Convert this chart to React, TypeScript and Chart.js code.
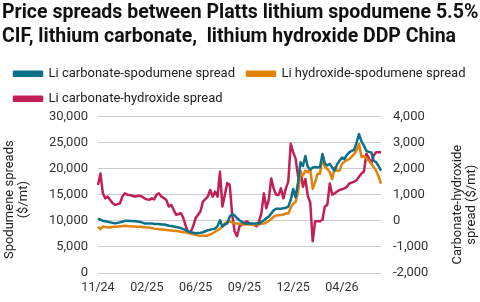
import React, { useEffect, useRef } from "react";
import { Chart, registerables } from "chart.js";

Chart.register(...registerables);

const titleLines = [
  "Price spreads between Platts lithium spodumene 5.5%",
  "CIF, lithium carbonate,  lithium hydroxide DDP China",
];

const tickLabels = ["11/24", "02/25", "06/25", "09/25", "12/25", "04/26"];
const tickEvery = 20;

// Li carbonate-spodumene spread ($/mt), left axis
const carbSpod = [
  10400, 10200, 10000, 9900, 9800, 9700, 9600, 9500, 9600, 9700,
  9800, 10000, 10000, 9950, 9940, 9900, 9850, 9800, 9700, 9500,
  9500, 9500, 9500, 9400, 9400, 9400, 9300, 9300, 9200, 9050,
  9000, 8900, 8800, 8700, 8600, 8400, 8200, 8000, 7800, 7700,
  7600, 7650, 7700, 7800, 8000, 8200, 8300, 8400, 8500, 9000,
  10100, 8900, 9300, 9500, 10800, 11300, 11000, 10500, 10100, 9800,
  9500, 9500, 9500, 9500, 9500, 9500, 9500, 9800, 10100, 10500,
  10800, 11400, 12000, 12300, 12300, 12300, 12400, 12500, 12700, 14000,
  16100, 14500, 17400, 21200, 20500, 22400, 20300, 19800, 20200, 20300,
  20200, 20300, 22800, 21000, 20600, 20900, 20200, 19600, 20800, 21500,
  22100, 21800, 22600, 23100, 23400, 23600, 25000, 26600, 25200, 24400,
  23400, 23200, 23100, 21500, 21200, 20500, 19600,
];

// Li hydroxide-spodumene spread ($/mt), left axis
const hydSpod = [
  8900, 8400, 8900, 8800, 8750, 8700, 8800, 8850, 8900, 8900,
  9000, 9050, 9000, 8950, 8900, 8900, 8880, 8860, 8800, 8750,
  8700, 8700, 8600, 8500, 8450, 8400, 8350, 8300, 8250, 8200,
  8150, 8100, 8050, 8000, 7900, 7800, 7750, 7700, 7550, 7400,
  7300, 7200, 7150, 7150, 7150, 7200, 7400, 7600, 7900, 8200,
  8500, 9000, 9500, 9800, 9900, 9700, 9500, 9500, 9450, 9400,
  9350, 9300, 9300, 9300, 9300, 9300, 9300, 9450, 9500, 9700,
  9950, 10300, 10800, 11000, 11070, 11100, 11200, 11400, 11400, 12500,
  13300, 13600, 15500, 19300, 18700, 19600, 19300, 19900, 16100, 17400,
  19000, 19000, 22100, 20300, 19900, 19300, 18000, 20200, 19600, 19600,
  20900, 21300, 21600, 21800, 22300, 22800, 23500, 24700, 22200, 22400,
  22000, 21500, 21000, 20300, 19600, 18500, 17100,
];

// Li carbonate-hydroxide spread ($/mt), right axis
const carbHyd = [
  1370, 1810, 1050, 860, 925, 800, 670, 610, 640, 670,
  930, 1050, 1000, 990, 960, 930, 950, 960, 930, 860,
  820, 800, 860, 820, 1000, 1050, 925, 870, 800, 545,
  610, 420, 230, 260, 290, 100, -210, -470, -430, -210,
  100, 230, 355, 735, 830, 925, 1180, 925, 1115, 925,
  1875, 545, 1000, 1450, 1370, 230, -400, -590, -210, -150,
  -80, -20, -90, -120, -150, -210, -20, 300, 1050, 480,
  800, 1620, 1240, 1000, 990, 1240, 860, 1240, 1500, 2950,
  2630, 2380, 1700, 1900, 1300, 1600, 950, 700, -780, -20,
  -20, -20, 40, 545, 610, 1430, 1000, 1050, 1120, 1180,
  1210, 1240, 1300, 1430, 1460, 1500, 1560, 1690, 1810, 1880,
  2570, 2400, 2190, 2500, 2630, 2630, 2630,
];

const seriesNames = [
  "Li carbonate-spodumene spread",
  "Li hydroxide-spodumene spread",
  "Li carbonate-hydroxide spread",
];
const colors = ["#0B7189", "#E2820A", "#C21F55"];

const leftTitle = ["Spodumene spreads", "($/mt)"];
const rightTitle = ["Carbonate-hydroxide", "spread ($/mt)"];

const FONT = "Roboto, 'Liberation Sans', sans-serif";

const legendGap = {
  id: "legendGap",
  beforeInit(chart: any) {
    const lg = chart.legend;
    if (!lg) return;
    const fit = lg.fit;
    lg.fit = function () {
      fit.call(lg);
      lg.height += 1;
    };
  },
};

// Both axis titles read bottom-to-top, as in the reference
const axisTitles = {
  id: "axisTitles",
  afterDraw(chart: any) {
    const { ctx, chartArea, width } = chart;
    const midY = (chartArea.top + chartArea.bottom) / 2;
    const draw = (lines: string[], xs: number[], cy: number) => {
      lines.forEach((t, i) => {
        ctx.save();
        ctx.translate(xs[i], cy);
        ctx.rotate(-Math.PI / 2);
        ctx.font = `13px ${FONT}`;
        ctx.fillStyle = "#222";
        ctx.textAlign = "center";
        ctx.textBaseline = "middle";
        ctx.fillText(t, 0, 0);
        ctx.restore();
      });
    };
    draw(leftTitle, [10, 24], midY + 5);
    draw(rightTitle, [width - 22, width - 8], midY + 10);
  },
};

export default function App() {
  const ref = useRef<HTMLCanvasElement | null>(null);
  useEffect(() => {
    document.body.style.margin = "0";
    const labels = carbSpod.map((_, i) => String(i));
    const chart = new Chart(ref.current!, {
      type: "line",
      plugins: [legendGap, axisTitles],
      data: {
        labels,
        datasets: [
          { label: seriesNames[0], data: carbSpod, borderColor: colors[0], backgroundColor: colors[0], yAxisID: "y" },
          { label: seriesNames[1], data: hydSpod, borderColor: colors[1], backgroundColor: colors[1], yAxisID: "y" },
          { label: seriesNames[2], data: carbHyd, borderColor: colors[2], backgroundColor: colors[2], yAxisID: "y1" },
        ].map((d) => ({ ...d, borderWidth: 2.5, pointRadius: 0, tension: 0, borderJoinStyle: "round" as const })),
      },
      options: {
        animation: false,
        responsive: false,
        layout: { padding: { left: 2, right: 0, top: 1, bottom: 0 } },
        plugins: {
          title: {
            display: true,
            text: titleLines,
            align: "start",
            color: "#111",
            font: { family: FONT, size: 19.5, weight: "bold", lineHeight: 1.24 },
            padding: { top: 0, bottom: 6 },
          },
          legend: {
            display: true,
            align: "start",
            labels: {
              color: "#222",
              font: { family: FONT, size: 13 },
              boxWidth: 28,
              boxHeight: 4,
              padding: 12,
            },
          },
          tooltip: { enabled: false },
        },
        scales: {
          x: {
            type: "category",
            offset: false,
            grid: { display: false, drawTicks: false },
            border: { display: false },
            ticks: {
              autoSkip: false,
              maxRotation: 0,
              padding: 7,
              color: "#333",
              font: { family: FONT, size: 12.5 },
              callback: (_v: any, idx: number) =>
                idx % tickEvery === 0 && tickLabels[idx / tickEvery] ? tickLabels[idx / tickEvery] : "",
            },
          },
          y: {
            position: "left",
            min: 0,
            max: 30000,
            afterFit: (s: any) => {
              s.width = 96;
            },
            ticks: {
              stepSize: 5000,
              padding: 10,
              color: "#333",
              font: { family: FONT, size: 13 },
              callback: (v: any) => Number(v).toLocaleString("en-US"),
            },
            grid: { color: "#cccccc", drawTicks: false },
            border: { display: false },
          },
          y1: {
            position: "right",
            min: -2000,
            max: 4000,
            afterFit: (s: any) => {
              s.width = 99;
            },
            ticks: {
              stepSize: 1000,
              padding: 12,
              color: "#333",
              font: { family: FONT, size: 13 },
              callback: (v: any) => Number(v).toLocaleString("en-US"),
            },
            grid: { display: false, drawTicks: false },
            border: { display: false },
          },
        },
      },
    });
    return () => chart.destroy();
  }, []);
  return (
    <div style={{ width: 480, height: 302 }}>
      <canvas ref={ref} width={480} height={302} />
    </div>
  );
}
